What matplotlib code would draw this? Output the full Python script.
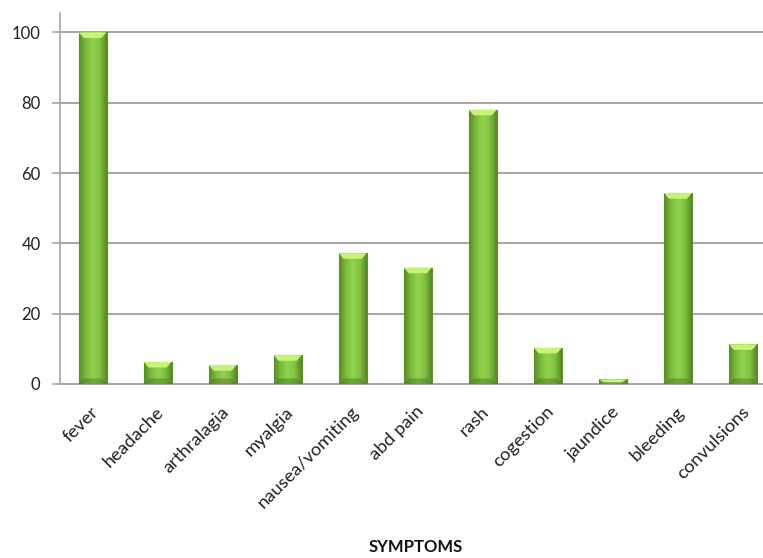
import numpy as np
import matplotlib
matplotlib.use("Agg")
import matplotlib.pyplot as plt
import matplotlib.transforms as mtransforms
from matplotlib.colors import LinearSegmentedColormap

symptoms = ["fever", "headache", "arthralagia", "myalgia", "nausea/vomiting",
            "abd pain", "rash", "cogestion", "jaundice", "bleeding", "convulsions"]
counts = [100, 6.3, 5.4, 8.2, 37.2, 33.1, 78, 10.3, 1.3, 54.3, 11.3]
yticks = [0, 20, 40, 60, 80, 100]

plt.rcParams['font.family'] = ['Lato', 'DejaVu Sans']

fig = plt.figure(figsize=(7.63, 5.58), dpi=100)
ax = fig.add_axes([60 / 763, 1 - 384 / 558, 715.5 / 763, 371 / 558])

x = np.arange(len(symptoms))
bars = ax.bar(x, counts, width=0.43, color="#7cbf3c", edgecolor="#5e8f2a",
              linewidth=0.8, zorder=3)

# horizontal shading to fake the rounded excel bars
cmap = LinearSegmentedColormap.from_list(
    "barshade", ["#5a8c26", "#7bbd3a", "#92d34e", "#80c33f", "#578823"])
grad = np.linspace(0, 1, 64).reshape(1, -1)
for b in bars:
    x0, w, h = b.get_x(), b.get_width(), b.get_height()
    im = ax.imshow(grad, cmap=cmap, aspect="auto", extent=(x0, x0 + w, 0, h),
                   zorder=3.5, interpolation="bicubic")
    im.set_clip_path(b)
    # light bevel on top
    cap = min(1.6, h * 0.6)
    ax.fill([x0, x0 + w, x0 + w * 0.82, x0 + w * 0.18],
            [h, h, h - cap, h - cap], color="#c9f27c", zorder=4, lw=0)
    # darker foot
    foot = min(1.6, h * 0.3)
    ax.fill([x0, x0 + w, x0 + w * 0.82, x0 + w * 0.18],
            [0, 0, foot, foot], color="#4f7d20", alpha=0.5, zorder=4, lw=0)

ax.set_xlim(-0.5, len(symptoms) - 0.5)
ax.set_ylim(0, 105.5)
ax.set_yticks(yticks)
ax.yaxis.grid(True, color="#a6a6a6", linewidth=1.4, zorder=0)
ax.set_axisbelow(True)

for s in ["top", "right"]:
    ax.spines[s].set_visible(False)
ax.spines["left"].set_color("#a6a6a6")
ax.spines["bottom"].set_color("#a6a6a6")
ax.spines["left"].set_linewidth(1.2)
ax.spines["bottom"].set_linewidth(1.4)

ax.tick_params(axis="y", length=6, width=1.2, color="#a6a6a6",
               labelsize=12, labelcolor="#222222", pad=8)
ax.tick_params(axis="x", length=0, labelsize=13.3, labelcolor="#222222", pad=14)
ax.set_xticks(x)
ax.set_xticklabels(symptoms, rotation=45, ha="right", rotation_mode="anchor")
shift = mtransforms.ScaledTranslation(-2 / 100, 0, fig.dpi_scale_trans)
for lab in ax.get_xticklabels():
    lab.set_transform(lab.get_transform() + shift)

fig.text(0.545, 0.02, "SYMPTOMS", ha="center", va="center",
         fontsize=12, fontweight="bold", color="#111111")

fig.savefig("out.png", dpi=100)
